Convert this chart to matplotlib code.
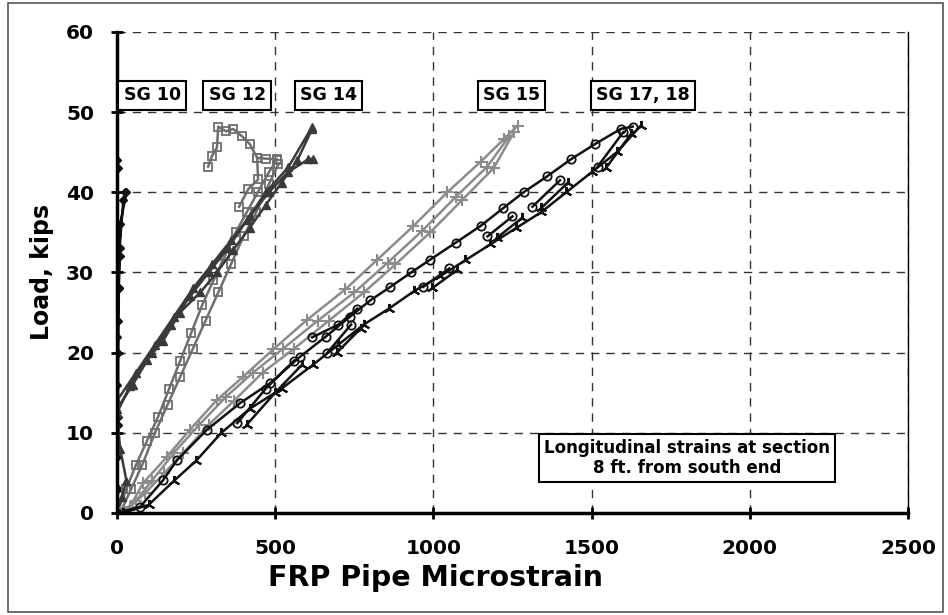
import numpy as np
import matplotlib
matplotlib.use("Agg")
import matplotlib.pyplot as plt
from matplotlib.patches import Rectangle

nan = np.nan

# load cycles for each gauge, cycles separated by nan
sg10_x = [0, 2, 0, 3, 4, 6, 8, 10, 30, nan, 0, 1, 0, 2, 5, 8, 20, 25, nan, 0, 2, 0, 1, 0, 3]
sg10_y = [0, 3, 7, 11, 20, 28, 32, 36, 40, nan, 0, 8, 16, 24, 28, 33, 39, 40, nan, 0, 12, 22, 33, 44, 43]

sg12_x = [0, 30, 60, 95, 130, 165, 200, 235, 270, 305, 340, 375, 410, 445, 480, 505, nan,
          10, 45, 80, 120, 160, 200, 240, 280, 320, 360, 400, 440, 480, 510, nan,
          506, 470, 443, 446, 415, 386, nan,
          443, 420, 395, 367, 345, 320, 316, 300, 288]
sg12_y = [0, 3, 6, 9, 12, 15.5, 19, 22.5, 26, 29, 32, 35, 37.5, 40, 42.5, 44, nan,
          0, 3, 6, 10, 13.5, 17, 20.5, 24, 27.5, 31, 34.5, 37.5, 41, 43.5, nan,
          44.1, 44.2, 44.3, 41.6, 40.4, 38.2, nan,
          44.3, 46, 47, 47.9, 47.6, 48.2, 45.6, 44.5, 43.2]

sg14_x = [0, 15, 30, 10, 0, 41, 95, 146, 199, 263, 316, 367, 420, 470, 520, 570, 617, nan,
          0, 50, 110, 170, 230, 290, 350, 410, 470, 541, 617, nan,
          0, 60, 120, 180, 240, 300, 360, 420, 480, 540, 604, 620]
sg14_y = [0, 2, 4, 8, 12.5, 15.8, 19.1, 21.5, 25, 27.5, 30, 32.8, 35.6, 38.4, 41.2, 44, 47.9, nan,
          13, 16, 20, 23.5, 27, 30, 33, 36.5, 40, 43.1, 48.2, nan,
          14, 17.5, 21, 24.5, 28, 31, 34, 37, 40, 42.5, 44.1, 44.2]

sg15_x = [0, 41, 82, 158, 231, 316, 399, 494, 601, 722, 823, 937, 1044, 1149, 1222, 1266, nan,
          10, 60, 110, 180, 260, 345, 430, 525, 635, 750, 855, 965, 1070, 1170, 1240, nan,
          20, 90, 150, 210, 290, 370, 460, 560, 670, 780, 880, 990, 1090, 1190, 1255]
sg15_y = [0, 0.75, 3.7, 7, 10.4, 14.1, 17, 20.4, 24.1, 27.9, 31.6, 35.8, 40, 43.8, 46.6, 48.3, nan,
          0, 1.5, 4, 7.5, 11, 14.5, 17.5, 20.5, 24, 27.5, 31.2, 35.2, 39.4, 43.2, 47, nan,
          0, 2.5, 5, 7.5, 11, 14, 17.5, 20.5, 24, 27.5, 31, 35, 39, 43, 47.5]

sg17_x = [0, 73, 146, 190, 285, 389, 484, 579, 660, 737, 800, 864, 930, 990, 1070, 1149, 1220,
          1285, 1360, 1434, 1510, 1592, 1630, nan,
          380, 470, 560, nan, 617, 700, 760, nan, 665, 740, nan, 968, 1050, nan,
          1171, 1250, nan, 1313, 1400, nan, 1519, 1600]
sg17_y = [0, 0.75, 4.1, 6.6, 10.4, 13.7, 16.2, 19.5, 22, 24.5, 26.5, 28.2, 30, 31.6, 33.7, 35.8, 38,
          40, 42, 44.1, 46, 47.9, 48.2, nan,
          11.2, 15.5, 19, nan, 21.9, 23.5, 25.5, nan, 20, 23.5, nan, 28.2, 30.5, nan,
          34.5, 37, nan, 38.2, 41.5, nan, 43.2, 47.5]

sg18_x = [20, 100, 180, 250, 330, 420, 520, 620, 700, 780, 860, 940, 1020, 1100, 1180, 1260,
          1340, 1420, 1500, 1580, 1655, nan,
          410, 500, 585, nan, 695, 770, nan, 995, 1075, nan, 1200, 1280, nan,
          1340, 1425, nan, 1545, 1625]
sg18_y = [0, 1, 4, 6.5, 10, 13, 15.5, 18.5, 21, 23.5, 25.5, 27.7, 29.5, 31.5, 33.5, 35.5,
          37.5, 40, 42.5, 45, 48.3, nan,
          11, 15, 18.5, nan, 20, 23, nan, 28, 30.3, nan, 34.3, 36.8, nan,
          38, 41.2, nan, 43, 47.3]

labels = ["SG 10", "SG 12", "SG 14", "SG 15", "SG 17, 18"]
label_x = [111, 380, 668, 1247, 1662]
label_y = 52.1

fig = plt.figure(figsize=(9.48, 6.15), dpi=100)
ax = fig.add_axes([0.1234, 0.166, 0.9578 - 0.1234, 0.948 - 0.166])

lw = 1.8
ax.plot(sg10_x, sg10_y, color="#111111", lw=lw, marker="D", ms=4, mfc="#111111")
ax.plot(sg12_x, sg12_y, color="#6e6e6e", lw=lw, marker="s", ms=6, mfc="none", mew=1.3)
ax.plot(sg14_x, sg14_y, color="#3a3a3a", lw=lw, marker="^", ms=6, mfc="#3a3a3a")
ax.plot(sg15_x, sg15_y, color="#8c8c8c", lw=lw, marker="+", ms=9, mew=1.5)
ax.plot(sg17_x, sg17_y, color="#111111", lw=lw, marker="o", ms=6, mfc="none", mew=1.3)
ax.plot(sg18_x, sg18_y, color="#111111", lw=lw, marker=(3, 2, 0), ms=8, mew=1.5)

ax.set_xlim(0, 2500)
ax.set_ylim(0, 60)
ax.set_xticks(np.arange(0, 2501, 500))
ax.set_yticks(np.arange(0, 61, 10))
ax.grid(True, color="#333333", linestyle=(0, (6, 5)), linewidth=1)
ax.set_axisbelow(True)

for s in ["left", "bottom"]:
    ax.spines[s].set_linewidth(2.5)
ax.spines["top"].set_visible(False)
ax.spines["right"].set_linewidth(1)
ax.tick_params(direction="inout", length=9, width=2, labelsize=14.5)
ax.tick_params(axis="x", pad=14)
ax.tick_params(axis="y", pad=12)
for t in ax.get_xticklabels() + ax.get_yticklabels():
    t.set_fontweight("bold")

# axis titles placed like the original (x title sits left of centre)
fig.text(435 / 948, 1 - 578 / 615, "FRP Pipe Microstrain", ha="center", va="center",
         fontsize=20.5, fontweight="bold")
fig.text(42 / 948, 1 - 272 / 615, "Load, kips", ha="center", va="center", rotation=90,
         fontsize=17, fontweight="bold")

for txt, lx in zip(labels, label_x):
    ax.text(lx, label_y, txt, ha="center", va="center", fontsize=12.5, fontweight="bold",
            bbox=dict(boxstyle="square,pad=0.3", fc="white", ec="black", lw=1.5))

ax.text(1801, 6.9, "Longitudinal strains at section\n8 ft. from south end", ha="center",
        va="center", fontsize=12, fontweight="bold", linespacing=1.15,
        bbox=dict(boxstyle="square,pad=0.3", fc="white", ec="black", lw=1.5))

fig.patches.append(Rectangle((8 / 948, 3 / 615), 935 / 948, 609 / 615, transform=fig.transFigure,
                             fill=False, ec="#555555", lw=1.2))

fig.savefig("out.png", dpi=100)
